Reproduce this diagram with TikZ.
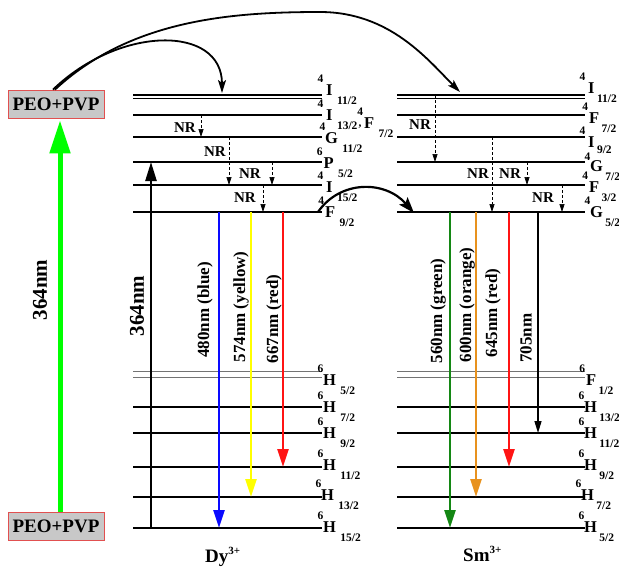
\documentclass[tikz,border=0pt]{standalone}
\usepackage{fontspec}
\setmainfont{Liberation Serif}
\usetikzlibrary{arrows.meta,calc}
\definecolor{boxfill}{RGB}{200,200,200}
\definecolor{boxline}{RGB}{225,80,80}
\definecolor{brightgreen}{RGB}{0,255,0}
\definecolor{smgreen}{RGB}{20,135,20}
\definecolor{smorange}{RGB}{232,146,30}
\definecolor{myred}{RGB}{255,20,20}
\definecolor{myblue}{RGB}{10,10,255}
\definecolor{myyellow}{RGB}{255,255,0}
\newcommand\termgap{4}
\newcommand\termsupdy{-11}
\newcommand\termsubdy{11}
\newcommand\term[6]{%
  \node[termL,anchor=west] (#1) at (#2,#3) {#5};
  \node[termS] (#1u) at ($(#1.center)+(-9,\termsupdy)$) {#4};
  \node[termS,anchor=west] (#1d) at ($(#1.east)+(\termgap,\termsubdy)$) {#6};
}
\begin{document}
\begin{tikzpicture}[x=1pt,y=-1pt,
  lvl/.style={line width=1.8pt},
  dbl/.style={line width=1.1pt},
  thinlvl/.style={line width=0.9pt,draw=black!55},
  em/.style={line width=2.4pt,-{Triangle[length=18pt,width=11pt]}},
  nr/.style={line width=0.7pt,dash pattern=on 3pt off 2pt,-{Triangle[length=8pt,width=5pt]}},
  nrlab/.style={font=\bfseries\fontsize{15}{15}\selectfont,inner sep=0pt},
  rotlab/.style={rotate=90,font=\bfseries\fontsize{17}{17}\selectfont,inner sep=0pt},
  termL/.style={font=\bfseries\fontsize{16.5}{16.5}\selectfont,inner sep=0pt},
  termS/.style={font=\bfseries\fontsize{11.5}{11.5}\selectfont,inner sep=0pt},
  pbox/.style={draw=boxline,line width=0.8pt,fill=boxfill,minimum width=96pt,minimum height=28pt,inner sep=0pt,font=\bfseries\fontsize{19}{19}\selectfont},
  curvearrow/.style={line width=1.8pt,-{Stealth[length=13pt,width=8pt,inset=3pt]}}
]
\useasboundingbox (0,0) rectangle (619,568);

% ---- boxes ----
\node[pbox] (box1) at (56,104) {PEO+PVP};
\node[pbox] (box2) at (56,526) {PEO+PVP};
\draw[line width=5pt,draw=brightgreen,-{Triangle[length=33pt,width=20pt]},fill=brightgreen]
  ([xshift=4pt]box2.north) -- ([xshift=4pt,yshift=-2pt]box1.south);
\node[rotlab,font=\bfseries\fontsize{21}{21}\selectfont] (l364a) at (40,290) {364nm};

% ---- Dy levels ----
\draw[dbl] (133,95) -- (322,95);
\draw[dbl] (133,98.5) -- (322,98.5);
\foreach \y in {115,137,162,185,212} \draw[lvl] (133,\y) -- (322,\y);
\draw[thinlvl] (133,371) -- (322,371);
\draw[thinlvl] (133,377) -- (322,377);
\foreach \y in {407,433,467,497,528} \draw[lvl] (133,\y) -- (322,\y);

% ---- Sm levels ----
\draw[dbl] (397,95) -- (585,95);
\draw[dbl] (397,98.5) -- (585,98.5);
\foreach \y in {115,137,162,185,212} \draw[lvl] (397,\y) -- (585,\y);
\draw[thinlvl] (397,371) -- (585,371);
\draw[thinlvl] (397,377) -- (585,377);
\foreach \y in {407,433,467,497,528} \draw[lvl] (397,\y) -- (585,\y);

% ---- coordinates ----
\coordinate (dyTop) at (222,93);
\coordinate (smTop) at (460,92);
\coordinate (dyF) at (318,212);
\coordinate (smG) at (414,213);
\coordinate (ex0) at (151,528);
\coordinate (ex1) at (151,162);

% ---- curved transfer arrows ----
\draw[curvearrow] ([xshift=-3pt]box1.north) .. controls (120,25) and (222,25) .. (dyTop);
\draw[curvearrow] ([xshift=-1pt]box1.north) .. controls (130,20) and (230,12) .. (320,12)
   .. controls (390,12) and (428,60) .. (smTop);
\draw[line width=2.2pt,-{Stealth[length=16pt,width=11pt,inset=3pt]}] (dyF) .. controls (340,180) and (385,180) .. (smG);

% ---- excitation ----
\draw[line width=2.4pt,-{Triangle[length=19pt,width=11pt]}] (ex0) -- (ex1);
\node[rotlab,font=\bfseries\fontsize{21}{21}\selectfont] (l364b) at (137,306) {364nm};

% ---- Dy emissions ----
\coordinate (b0) at (219,212); \coordinate (b1) at (219,528);
\coordinate (y0) at (251,212); \coordinate (y1) at (251,497);
\coordinate (r0) at (283,212); \coordinate (r1) at (283,467);
\draw[em,draw=myblue,fill=myblue] (b0) -- (b1);
\draw[em,draw=myyellow,fill=myyellow] (y0) -- (y1);
\draw[em,draw=myred,fill=myred] (r0) -- (r1);
\node[rotlab] (lb) at (205,310) {480nm (blue)};
\node[rotlab] (ly) at (241,307) {574nm (yellow)};
\node[rotlab] (lr) at (274,319) {667nm (red)};

% ---- Sm emissions ----
\coordinate (g0) at (450,212); \coordinate (g1) at (450,528);
\coordinate (o0) at (476,212); \coordinate (o1) at (476,497);
\coordinate (s0) at (509,212); \coordinate (s1) at (509,467);
\coordinate (k0) at (538,212); \coordinate (k1) at (538,433);
\draw[em,draw=smgreen,fill=smgreen] (g0) -- (g1);
\draw[em,draw=smorange,fill=smorange] (o0) -- (o1);
\draw[em,draw=myred,fill=myred] (s0) -- (s1);
\draw[line width=1.4pt,-{Triangle[length=12pt,width=7pt]}] (k0) -- (k1);
\node[rotlab] (lg) at (438,311) {560nm (green)};
\node[rotlab] (lo) at (467,305) {600nm (orange)};
\node[rotlab] (ls) at (493,313) {645nm (red)};
\node[rotlab] (lk) at (526,338) {705nm};

% ---- NR Dy ----
\coordinate (n1a) at (201,115); \coordinate (n1b) at (201,137);
\coordinate (n2a) at (229,137); \coordinate (n2b) at (229,185);
\coordinate (n3a) at (272,162); \coordinate (n3b) at (272,185);
\coordinate (n4a) at (263,185); \coordinate (n4b) at (263,212);
\draw[nr] (n1a) -- (n1b);
\draw[nr] (n2a) -- (n2b);
\draw[nr] (n3a) -- (n3b);
\draw[nr] (n4a) -- (n4b);
\node[nrlab] (nl1) at (185,128) {NR};
\node[nrlab] (nl2) at (215,152) {NR};
\node[nrlab] (nl3) at (250,174) {NR};
\node[nrlab] (nl4) at (245,198) {NR};

% ---- NR Sm ----
\coordinate (m1a) at (435,95); \coordinate (m1b) at (435,162);
\coordinate (m2a) at (492,137); \coordinate (m2b) at (492,212);
\coordinate (m3a) at (527,162); \coordinate (m3b) at (527,185);
\coordinate (m4a) at (562,185); \coordinate (m4b) at (562,212);
\draw[nr] (m1a) -- (m1b);
\draw[nr] (m2a) -- (m2b);
\draw[nr] (m3a) -- (m3b);
\draw[nr] (m4a) -- (m4b);
\node[nrlab] (ml1) at (420,125) {NR};
\node[nrlab] (ml2) at (478,174) {NR};
\node[nrlab] (ml3) at (510,174) {NR};
\node[nrlab] (ml4) at (543,198) {NR};

% ---- Dy term labels ----
\term{d1}{326}{90}{4}{I}{11/2}
\term{d2}{326}{115}{4}{I}{13/2}
\node[termS] (dcomma) at (360,127) {,};
\term{d2b}{364}{123}{4}{F}{7/2}
\term{d3}{325}{138}{4}{G}{11/2}
\term{d4}{323.5}{163}{6}{P}{5/2}
\term{d5}{326}{187}{4}{I}{15/2}
\term{d6}{325}{212}{4}{F}{9/2}
\term{d7}{323}{380}{6}{H}{5/2}
\term{d8}{323}{407}{6}{H}{7/2}
\term{d9}{323}{433}{6}{H}{9/2}
\term{d10}{323}{465}{6}{H}{11/2}
\term{d11}{321}{495}{6}{H}{13/2}
\term{d12}{323}{527}{6}{H}{15/2}

% ---- Sm term labels ----
\renewcommand\termgap{2}
\term{s1}{588}{88}{4}{I}{11/2}
\term{s2}{589}{118}{4}{F}{7/2}
\begin{scope}
\renewcommand\termsubdy{8}
\term{s3}{588}{142}{4}{I}{9/2}
\end{scope}
\begin{scope}
\renewcommand\termsupdy{-9}
\term{s4}{590}{166}{4}{G}{7/2}
\end{scope}
\term{s5}{589}{187}{4}{F}{3/2}
\term{s6}{590}{212}{4}{G}{5/2}
\term{s7}{586}{380}{6}{F}{1/2}
\term{s8}{584}{407}{6}{H}{13/2}
\term{s9}{584}{433}{6}{H}{11/2}
\term{s10}{584}{465}{6}{H}{9/2}
\term{s11}{581}{495}{6}{H}{7/2}
\term{s12}{584}{527}{6}{H}{5/2}

% ---- ion labels ----
\node[anchor=base west,inner sep=0pt,font=\bfseries\fontsize{19}{19}\selectfont] (dy) at (205,562) {Dy\raisebox{8pt}{\fontsize{11}{11}\selectfont 3+}};
\node[anchor=base west,inner sep=0pt,font=\bfseries\fontsize{19}{19}\selectfont] (sm) at (463,561) {Sm\raisebox{8pt}{\fontsize{11}{11}\selectfont 3+}};
\end{tikzpicture}
\end{document}
